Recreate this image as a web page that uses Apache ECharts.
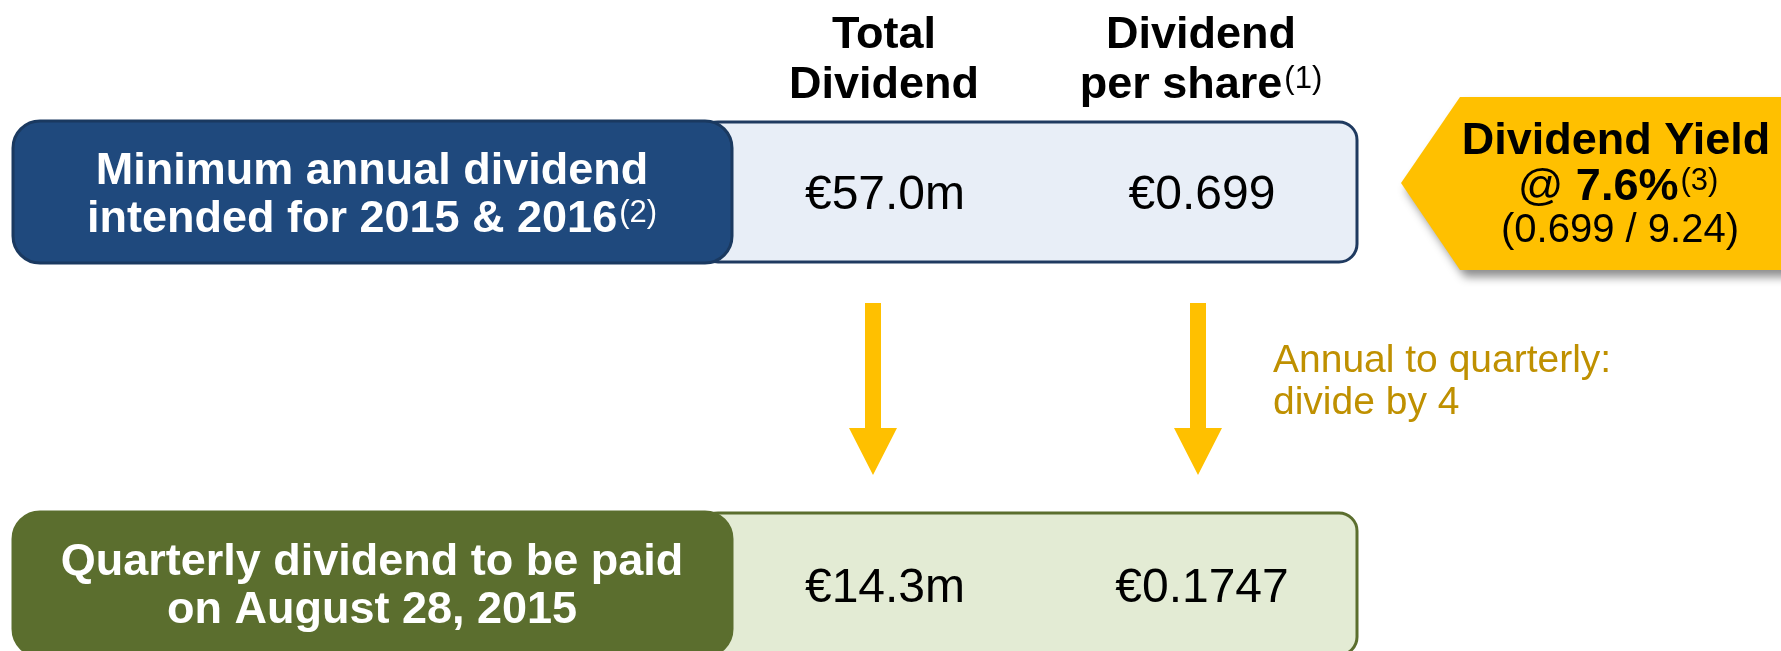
<!DOCTYPE html>
<html><head><meta charset="utf-8">
<script src="https://cdn.jsdelivr.net/npm/echarts@6/dist/echarts.min.js"></script>
<style>html,body{margin:0;padding:0;background:#fff;}#main{width:1781px;height:651px;}</style>
</head><body><div id="main"></div>
<script>
// ---- data ----
const columnHeaders = [['Total', 'Dividend'], ['Dividend', 'per share']];
const columnNotes = ['', '(1)'];
const rowLabels = [['Minimum annual dividend', 'intended for 2015 & 2016'], ['Quarterly dividend to be paid', 'on August 28, 2015']];
const rowNotes = ['(2)', ''];
const totalDividend = ['€57.0m', '€14.3m'];
const dividendPerShare = ['€0.699', '€0.1747'];
const yieldTitle = 'Dividend Yield';
const yieldLine = ['@ ', '7.6%', '(3)'];
const yieldCalc = '(0.699 / 9.24)';
const conversionNote = ['Annual to quarterly:', 'divide by 4'];

// ---- layout / style ----
const FONT = '"Liberation Sans", Arial, sans-serif';
const SUP = 31;
const ctx = document.createElement('canvas').getContext('2d');
function measure(t, size, weight) { ctx.font = weight + ' ' + size + 'px ' + FONT; return ctx.measureText(t).width; }
function txt(x, y, text, size, weight, color, align) {
  return { type: 'text', x: x, y: y, z: 10, style: { text: text, fontSize: size, fontWeight: weight, fontFamily: FONT, fill: color,
    align: align, textAlign: align, verticalAlign: 'middle', textVerticalAlign: 'middle' } };
}
// text line centred at cx with optional superscript note
function lineWithNote(cx, y, text, size, weight, color, note) {
  const out = [];
  if (!note) { out.push(txt(cx, y, text, size, weight, color, 'center')); return out; }
  const w1 = measure(text, size, weight), w2 = measure(note, SUP, 'normal');
  const left = cx - (w1 + w2 + 2) / 2;
  out.push(txt(left, y, text, size, weight, color, 'left'));
  out.push(txt(left + w1 + 2, y - 7, note, SUP, 'normal', color, 'left'));
  return out;
}

const headX = [884, 1201];
const valX = [885, 1202];
const rows = [
  { y: 120, h: 144, dark: '#1F497D', darkStroke: '#1A3960', light: '#E8EEF7', lightStroke: '#1F3A60', lines: [172, 220], valY: 196 },
  { y: 511, h: 146, dark: '#5B6E2E', darkStroke: '#5B6E2E', light: '#E3EBD4', lightStroke: '#5B6E2E', lines: [563, 611], valY: 589 }
];

const g = [];
rows.forEach(function (r, i) {
  g.push({ type: 'rect', z: 1, shape: { x: 700, y: r.y + 2, width: 657, height: r.h - 4, r: 18 },
    style: { fill: r.light, stroke: r.lightStroke, lineWidth: 3 } });
  g.push({ type: 'rect', z: 2, shape: { x: 13, y: r.y + 1, width: 719, height: r.h - 2, r: 27 },
    style: { fill: r.dark, stroke: r.darkStroke, lineWidth: 3 } });
  rowLabels[i].forEach(function (line, k) {
    const note = k === rowLabels[i].length - 1 ? rowNotes[i] : '';
    lineWithNote(372, r.lines[k], line, 45, 'bold', '#FFFFFF', note).forEach(function (e) { g.push(e); });
  });
  g.push(txt(valX[0], r.valY, totalDividend[i], 48, 'normal', '#000000', 'center'));
  g.push(txt(valX[1], r.valY, dividendPerShare[i], 48, 'normal', '#000000', 'center'));
});

// column headers
const headY = [36, 86];
columnHeaders.forEach(function (h, c) {
  h.forEach(function (line, k) {
    const note = k === h.length - 1 ? columnNotes[c] : '';
    lineWithNote(headX[c], headY[k], line, 45, 'bold', '#000000', note).forEach(function (e) { g.push(e); });
  });
});

// arrows
[873, 1198].forEach(function (cx) {
  g.push({ type: 'polygon', z: 3, shape: { points: [[cx - 8, 303], [cx + 8, 303], [cx + 8, 428], [cx + 24, 428], [cx, 475], [cx - 24, 428], [cx - 8, 428]] },
    style: { fill: '#FFC000' } });
});
g.push(txt(1273, 361, conversionNote[0], 39, 'normal', '#BF9000', 'left'));
g.push(txt(1273, 403, conversionNote[1], 39, 'normal', '#BF9000', 'left'));

// yield badge
g.push({ type: 'polygon', z: 3, shape: { points: [[1401, 183], [1460, 97], [1800, 97], [1800, 270], [1460, 270]] },
  style: { fill: '#FFC000', shadowBlur: 10, shadowColor: 'rgba(0,0,0,0.45)', shadowOffsetX: 5, shadowOffsetY: 7 } });
g.push(txt(1616, 142, yieldTitle, 45, 'bold', '#000000', 'center'));
(function () {
  const w0 = measure(yieldLine[0], 45, 'normal'), w1 = measure(yieldLine[1], 45, 'bold'), w2 = measure(yieldLine[2], SUP, 'normal');
  const left = 1618 - (w0 + w1 + w2 + 2) / 2, y = 188;
  g.push(txt(left, y, yieldLine[0], 45, 'normal', '#000000', 'left'));
  g.push(txt(left + w0, y, yieldLine[1], 45, 'bold', '#000000', 'left'));
  g.push(txt(left + w0 + w1 + 2, y - 7, yieldLine[2], SUP, 'normal', '#000000', 'left'));
})();
g.push(txt(1620, 231, yieldCalc, 40, 'normal', '#000000', 'center'));

const chart = echarts.init(document.getElementById('main'), null, { renderer: 'canvas' });
chart.setOption({ backgroundColor: '#FFFFFF', animation: false, graphic: { elements: g } });
</script></body></html>
